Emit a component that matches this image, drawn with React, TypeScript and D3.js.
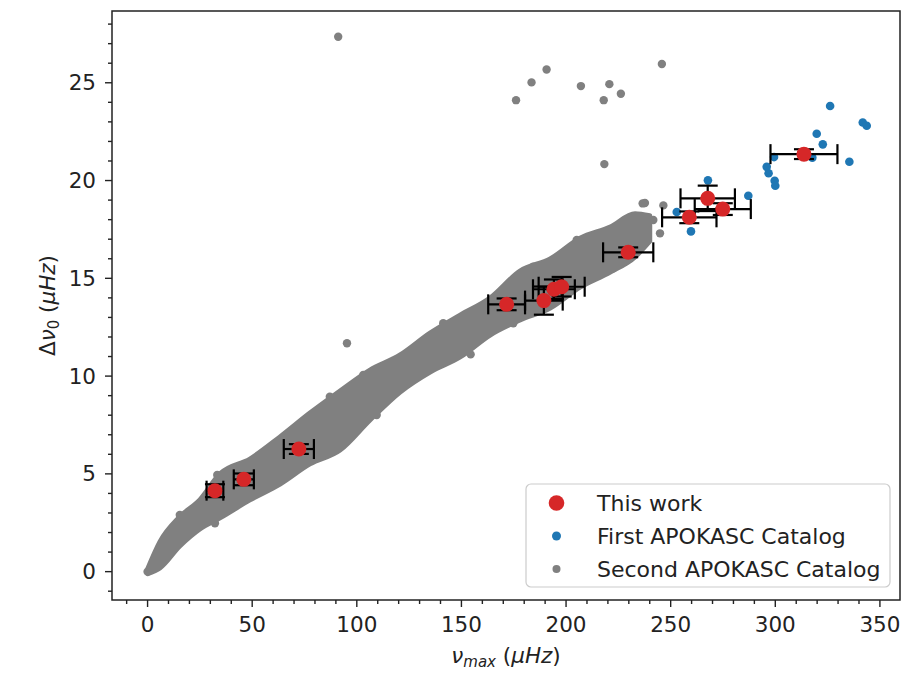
import * as d3 from 'd3';

// This work (red points with error bars)
const workNu = [32.2, 46.0, 72.3, 171.6, 189.4, 194.2, 197.9, 229.7, 258.9, 267.7, 274.9, 313.7];
const workDnu = [4.14, 4.72, 6.27, 13.67, 13.86, 14.44, 14.57, 16.33, 18.12, 19.09, 18.54, 21.35];
const workNuErr = [4.0, 4.8, 7.2, 8.8, 9.0, 10.0, 11.0, 12.0, 13.0, 13.0, 13.4, 16.0];
const workDnuErr = [0.33, 0.3, 0.25, 0.3, 0.72, 0.5, 0.5, 0.25, 0.3, 0.65, 0.3, 0.25];

// First APOKASC catalog
const firstNu = [326.2, 341.8, 343.7, 319.8, 322.7, 335.4, 299.4, 317.7, 295.9, 296.8, 299.7, 300.0, 267.8, 287.1, 252.9, 259.7];
const firstDnu = [23.81, 22.97, 22.8, 22.39, 21.85, 20.96, 21.2, 21.17, 20.7, 20.37, 19.99, 19.73, 20.01, 19.22, 18.39, 17.4];

// Second APOKASC catalog: dense core read as band edges, plus the stray points
const bandNu = [0.1, 5.9, 15.4, 25.0, 34.6, 48.9, 63.3, 77.6, 92.0, 106.3, 120.7, 135.0, 149.4, 163.7, 178.0, 192.4, 206.7, 221.1, 233.0, 240.0];
const bandHigh = [0.15, 1.52, 2.8, 3.67, 5.0, 5.76, 6.89, 8.11, 9.24, 10.31, 11.08, 12.2, 13.12, 13.99, 15.37, 15.99, 17.05, 17.62, 18.3, 18.2];
const bandLow = [-0.1, 0.19, 1.31, 2.18, 2.75, 3.67, 4.48, 5.51, 6.22, 7.76, 9.19, 10.21, 10.98, 12.1, 12.87, 13.48, 14.55, 15.32, 16.1, 16.9];
const secondNu = [0, 91.1, 176.1, 183.5, 190.7, 207.1, 218.0, 220.7, 226.2, 245.8, 218.3, 237.7, 246.5, 95.3, 154.4,
  32.2, 15.4, 33.3, 58.5, 87.1, 141.3, 103.1, 119.0, 109.5, 222.6, 174.8, 205.1, 184.3,
  241.7, 244.9, 233.7, 236.6];
const secondDnu = [0, 27.35, 24.11, 25.02, 25.68, 24.83, 24.11, 24.93, 24.44, 25.96, 20.84, 18.85, 18.73, 11.68, 11.11,
  2.47, 2.9, 4.94, 4.43, 8.95, 12.7, 10.06, 9.29, 8.01, 15.51, 12.7, 16.96, 15.59,
  17.98, 17.3, 17.3, 18.83];

const xTicks = [0, 50, 100, 150, 200, 250, 300, 350];
const yTicks = [0, 5, 10, 15, 20, 25];

const W = 910, H = 678;
const left = 112, right = 900, top = 11, bottom = 600;
const RED = '#d62728', BLUE = '#1f77b4', GRAY = '#808080', INK = '#222';
const FONT = 'DejaVu Sans, sans-serif';

export default function App() {
  const x = d3.scaleLinear().domain([-17, 359.6]).range([left, right]);
  const y = d3.scaleLinear().domain([-1.45, 28.67]).range([bottom, top]);

  const band = d3.area<number>()
    .x((_, i) => x(bandNu[i]))
    .y0((_, i) => y(bandLow[i]))
    .y1((_, i) => y(bandHigh[i]))
    .curve(d3.curveMonotoneX)(bandNu);

  const xMinor = d3.range(-10, 360, 10).filter(v => v % 50 !== 0);
  const yMinor = d3.range(-1, 29, 1).filter(v => v % 5 !== 0);
  const cap = 10;

  return (
    <svg width={W} height={H} style={{ position: 'absolute', left: 0, top: 0 }} fontFamily={FONT}>
      <rect width={W} height={H} fill="#fff" />

      {/* second catalog */}
      <path d={band ?? ''} fill={GRAY} stroke={GRAY} strokeWidth={5} strokeLinejoin="round" />
      {secondNu.map((v, i) => (
        <circle key={'s' + i} cx={x(v)} cy={y(secondDnu[i])} r={4.2} fill={GRAY} />
      ))}

      {/* first catalog */}
      {firstNu.map((v, i) => (
        <circle key={'f' + i} cx={x(v)} cy={y(firstDnu[i])} r={4.3} fill={BLUE} />
      ))}

      {/* this work: error bars then markers */}
      <g stroke="#000" strokeWidth={2.2}>
        {workNu.map((v, i) => {
          const cx = x(v), cy = y(workDnu[i]);
          const x0 = x(v - workNuErr[i]), x1 = x(v + workNuErr[i]);
          const y0 = y(workDnu[i] - workDnuErr[i]), y1 = y(workDnu[i] + workDnuErr[i]);
          return (
            <g key={'e' + i}>
              <line x1={x0} x2={x1} y1={cy} y2={cy} />
              <line x1={cx} x2={cx} y1={y0} y2={y1} />
              <line x1={x0} x2={x0} y1={cy - cap} y2={cy + cap} />
              <line x1={x1} x2={x1} y1={cy - cap} y2={cy + cap} />
              <line x1={cx - cap} x2={cx + cap} y1={y0} y2={y0} />
              <line x1={cx - cap} x2={cx + cap} y1={y1} y2={y1} />
            </g>
          );
        })}
      </g>
      {workNu.map((v, i) => (
        <circle key={'w' + i} cx={x(v)} cy={y(workDnu[i])} r={7.5} fill={RED} />
      ))}

      {/* frame */}
      <rect x={left} y={top} width={right - left} height={bottom - top} fill="none" stroke={INK} strokeWidth={1.5} />

      {/* ticks */}
      <g stroke={INK} strokeWidth={1.4}>
        {xTicks.map(t => <line key={'xt' + t} x1={x(t)} x2={x(t)} y1={bottom} y2={bottom + 7} />)}
        {xMinor.map(t => <line key={'xm' + t} x1={x(t)} x2={x(t)} y1={bottom} y2={bottom + 4} />)}
        {yTicks.map(t => <line key={'yt' + t} x1={left - 7} x2={left} y1={y(t)} y2={y(t)} />)}
        {yMinor.map(t => <line key={'ym' + t} x1={left - 4} x2={left} y1={y(t)} y2={y(t)} />)}
      </g>
      <g fill={INK} fontSize={21.5}>
        {xTicks.map(t => (
          <text key={'xl' + t} x={x(t)} y={632} textAnchor="middle">{t}</text>
        ))}
        {yTicks.map(t => (
          <text key={'yl' + t} x={96} y={y(t)} textAnchor="end" dominantBaseline="central">{t}</text>
        ))}
      </g>

      {/* axis labels */}
      <text x={(left + right) / 2} y={663} textAnchor="middle" fontSize={21.5} fill={INK}>
        <tspan fontStyle="italic">ν</tspan>
        <tspan fontStyle="italic" fontSize={15} dy={4}>max</tspan>
        <tspan dy={-4}> (</tspan>
        <tspan fontStyle="italic">μHz</tspan>
        <tspan>)</tspan>
      </text>
      <text transform={`translate(55,${(top + bottom) / 2}) rotate(-90)`} textAnchor="middle" fontSize={21.5} fill={INK}>
        <tspan>Δ</tspan>
        <tspan fontStyle="italic">ν</tspan>
        <tspan fontSize={15} dy={4}>0</tspan>
        <tspan dy={-4}> (</tspan>
        <tspan fontStyle="italic">μHz</tspan>
        <tspan>)</tspan>
      </text>

      {/* legend */}
      <g>
        <rect x={526} y={484} width={364} height={103} rx={5} fill="#fff" fillOpacity={0.8} stroke="#ccc" strokeWidth={1.2} />
        <circle cx={556.5} cy={503} r={7.8} fill={RED} />
        <circle cx={556.5} cy={536} r={4.5} fill={BLUE} />
        <circle cx={556.5} cy={569} r={4} fill={GRAY} />
        <g fontSize={22} fill={INK} dominantBaseline="central">
          <text x={597} y={503}>This work</text>
          <text x={597} y={536}>First APOKASC Catalog</text>
          <text x={597} y={569}>Second APOKASC Catalog</text>
        </g>
      </g>
    </svg>
  );
}
